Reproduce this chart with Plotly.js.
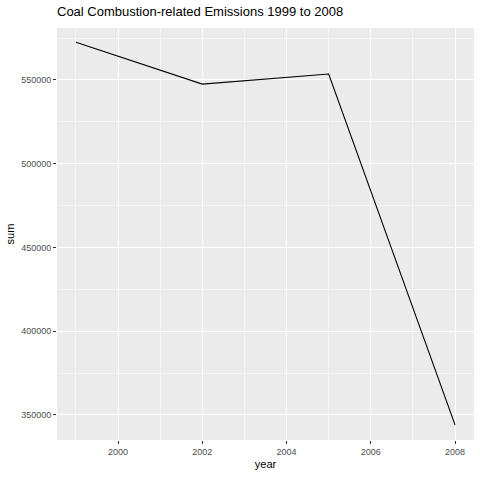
<!DOCTYPE html>
<html><head><script src="https://cdn.plot.ly/plotly-3.0.1.min.js"></script>
<style>body{margin:0}</style></head><body>
<div id="c" style="width:480px;height:480px"></div>
<script>
const years=[1999,2002,2005,2008];
const sums=[572500,547500,553500,344000];
Plotly.newPlot('c',[{x:years,y:sums,type:'scatter',mode:'lines',line:{color:'#000',width:1.1}}],{
 width:480,height:480,paper_bgcolor:'#fff',plot_bgcolor:'#ebebeb',
 margin:{l:57,r:6,t:28,b:40},showlegend:false,
 font:{family:'Liberation Sans, Arial',color:'#4d4d4d',size:9},
 title:{text:'Coal Combustion-related Emissions 1999 to 2008',xref:'paper',x:0,xanchor:'left',y:0.985,yanchor:'top',font:{size:13,color:'#000'}},
 xaxis:{range:[1998.55,2008.45],tickvals:[2000,2002,2004,2006,2008],gridcolor:'#fff',gridwidth:1.1,zeroline:false,
  ticks:'outside',ticklen:3,tickcolor:'#333',minor:{tickvals:[1999,2001,2003,2005,2007],gridcolor:'#f5f5f5',gridwidth:0.5,ticks:''},
  title:{text:'year',font:{size:11,color:'#000'},standoff:4}},
 yaxis:{range:[335000,581000],tickvals:[350000,400000,450000,500000,550000],tickformat:'d',gridcolor:'#fff',gridwidth:1.1,zeroline:false,
  ticks:'outside',ticklen:3,tickcolor:'#333',minor:{tickvals:[375000,425000,475000,525000,575000],gridcolor:'#f5f5f5',gridwidth:0.5,ticks:''},
  title:{text:'sum',font:{size:11,color:'#000'},standoff:4}}
},{displayModeBar:false});
</script></body></html>
